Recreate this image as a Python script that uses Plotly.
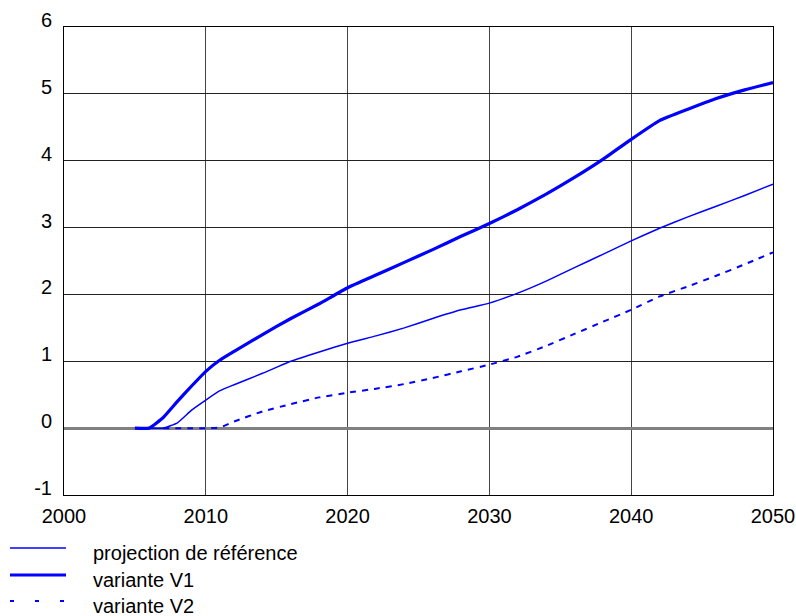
import plotly.graph_objects as go

# Yearly series (index change vs. 2005)
years_ref = [2005, 2006, 2007, 2008, 2009, 2010, 2011, 2012, 2014, 2016, 2018, 2020,
             2022, 2024, 2026, 2028, 2030, 2032, 2034, 2036, 2038, 2040, 2042,
             2044, 2046, 2048, 2050]
projection_reference = [0.0, 0.0, 0.0, 0.08, 0.27, 0.42, 0.56, 0.65, 0.82, 1.0, 1.14, 1.27,
                        1.38, 1.5, 1.64, 1.77, 1.87, 2.02, 2.2, 2.4, 2.6, 2.8, 2.99,
                        3.16, 3.32, 3.48, 3.65]

years_v1 = [2005, 2006, 2007, 2008, 2009, 2010, 2011, 2012, 2014, 2016, 2018, 2020,
            2022, 2024, 2026, 2028, 2030, 2032, 2034, 2036, 2038, 2040, 2042,
            2044, 2046, 2048, 2050]
variante_v1 = [0.0, 0.0, 0.16, 0.4, 0.63, 0.85, 1.02, 1.15, 1.4, 1.64, 1.86, 2.1,
               2.29, 2.48, 2.67, 2.87, 3.06, 3.27, 3.5, 3.75, 4.02, 4.32, 4.6,
               4.77, 4.93, 5.06, 5.17]

years_v2 = [2007, 2008, 2009, 2010, 2011, 2012, 2014, 2016, 2018, 2020,
            2022, 2024, 2026, 2028, 2030, 2032, 2034, 2036, 2038, 2040, 2042,
            2044, 2046, 2048, 2050]
variante_v2 = [0.0, 0.0, 0.0, 0.0, 0.01, 0.1, 0.25, 0.36, 0.46, 0.53,
               0.59, 0.66, 0.75, 0.85, 0.95, 1.07, 1.23, 1.41, 1.59, 1.77, 1.97,
               2.12, 2.28, 2.45, 2.63]

x_ticks = [2000, 2010, 2020, 2030, 2040, 2050]
y_ticks = [-1, 0, 1, 2, 3, 4, 5, 6]

legend_labels = ["projection de référence", "variante V1", "variante V2"]

BLUE = "#0000ff"
FONT = "Liberation Sans, Arial, sans-serif"

W, H = 796, 616
M_L, M_R, M_T, M_B = 64, 23, 27, 121
plot_w = W - M_L - M_R
plot_h = H - M_T - M_B


def px_to_paper_x(px):
    return (px - M_L) / plot_w


def px_to_paper_y(py):
    return (H - M_B - py) / plot_h


styles = [
    dict(width=1.5, dash="solid"),
    dict(width=3.2, dash="solid"),
    dict(width=2, dash="6px,6px"),
]

fig = go.Figure()
for xs, ys, name, st in zip([years_ref, years_v1, years_v2],
                            [projection_reference, variante_v1, variante_v2],
                            legend_labels, styles):
    fig.add_trace(go.Scatter(
        x=xs, y=ys, name=name, mode="lines",
        line=dict(color=BLUE, width=st["width"], dash=st["dash"], shape="spline",
                  smoothing=0.4),
        showlegend=False,
    ))

# Legend drawn below the plot: sample line + label for each series
legend_rows = [548, 575, 601]
legend_styles = [
    dict(width=1.5, dash="solid"),
    dict(width=3.2, dash="solid"),
    dict(width=2, dash="4px,21px"),
]
for row, label, st in zip(legend_rows, legend_labels, legend_styles):
    fig.add_shape(
        type="line", xref="paper", yref="paper",
        x0=px_to_paper_x(10), x1=px_to_paper_x(66),
        y0=px_to_paper_y(row), y1=px_to_paper_y(row),
        line=dict(color=BLUE, width=st["width"], dash=st["dash"]),
    )
    fig.add_annotation(
        xref="paper", yref="paper",
        x=px_to_paper_x(91), y=px_to_paper_y(row + 5),
        xanchor="left", yanchor="middle",
        text=label, showarrow=False,
        font=dict(family=FONT, size=20, color="#000000"),
    )

fig.update_layout(
    template="none",
    width=W, height=H,
    margin=dict(l=M_L, r=M_R, t=M_T, b=M_B, pad=0),
    paper_bgcolor="white", plot_bgcolor="white",
    font=dict(family=FONT, size=20, color="#000000"),
    showlegend=False,
)

fig.update_xaxes(
    range=[2000, 2050], tickvals=x_ticks, ticktext=[str(v) for v in x_ticks],
    automargin=False,
    showgrid=True, gridcolor="#444444", gridwidth=1,
    showline=True, linecolor="#000000", linewidth=1, mirror=True,
    zeroline=False, ticks="", ticklabelstandoff=3,
    tickfont=dict(family=FONT, size=20, color="#000000"),
)
fig.update_yaxes(
    range=[-1, 6], tickvals=y_ticks, ticktext=[str(v) for v in y_ticks],
    automargin=False,
    showgrid=True, gridcolor="#222222", gridwidth=1,
    showline=True, linecolor="#000000", linewidth=1, mirror=True,
    zeroline=True, zerolinecolor="#808080", zerolinewidth=2.5,
    ticks="", ticklabelstandoff=7, ticklabelshift=-7,
    tickfont=dict(family=FONT, size=20, color="#000000"),
)

fig.write_html("out.html")
